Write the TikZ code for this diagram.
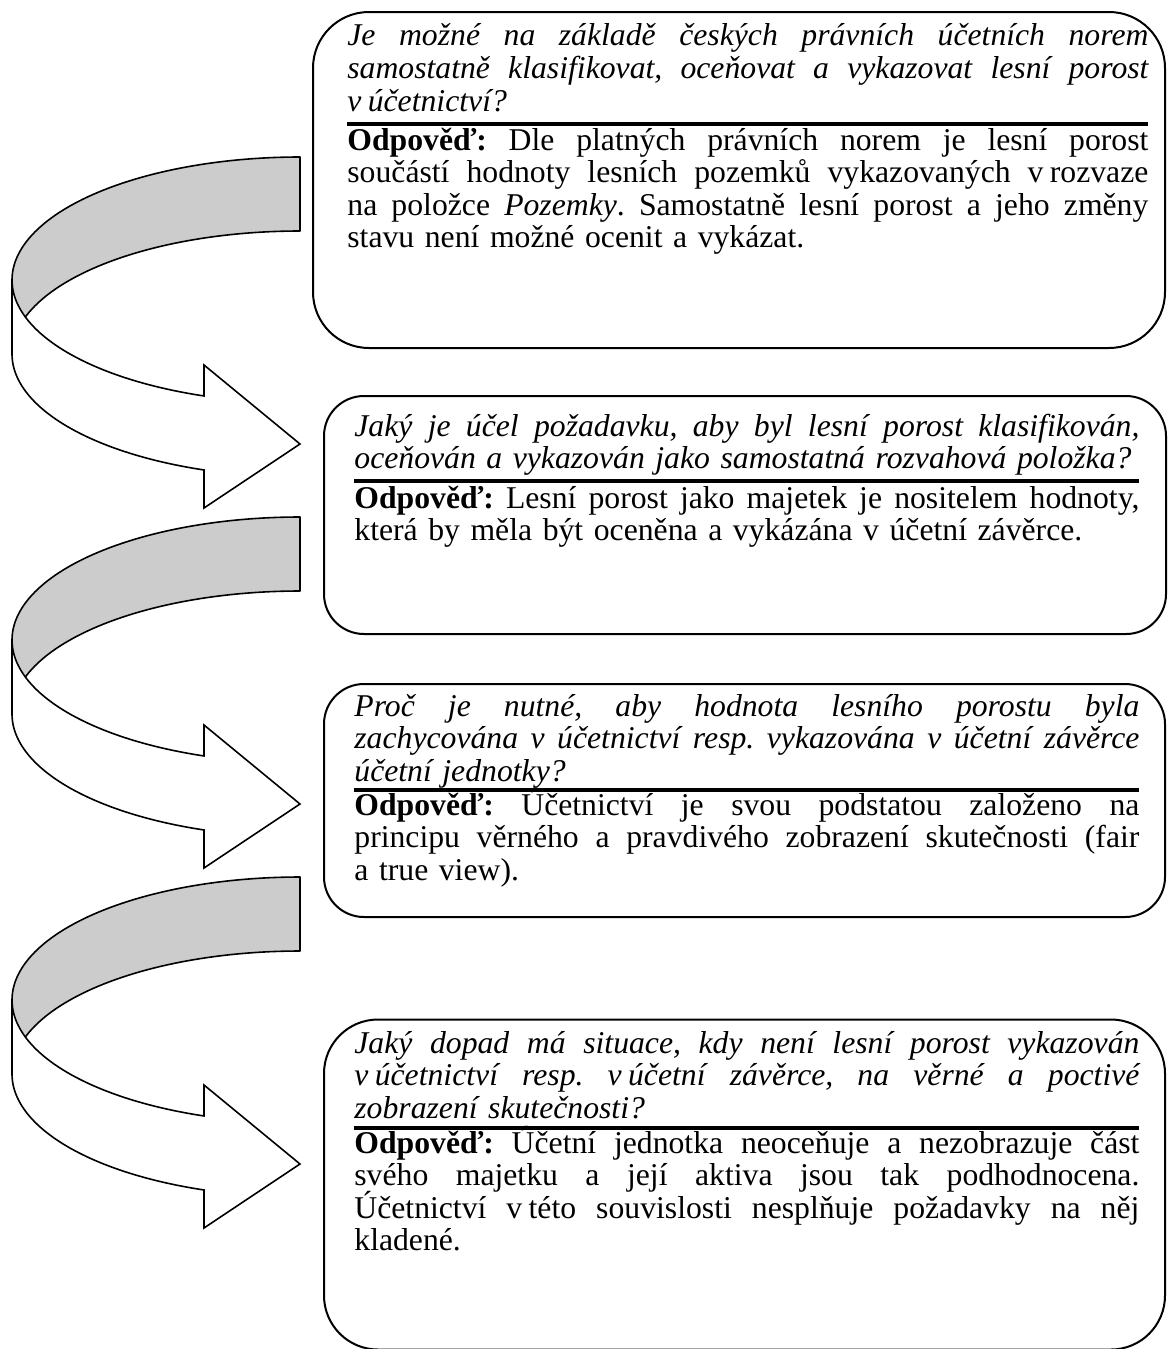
\documentclass[tikz,border=0pt]{standalone}
\usepackage{fontspec}
\setmainfont{Liberation Serif}
\newcommand\qafont{\fontsize{15.85}{16.25}\selectfont\lineskiplimit=-20pt\frenchspacing\relax}
% a justified line: every interword space stretches by the same amount
\newcommand\justline[1]{\makebox[\hsize][s]{\spaceskip=0.25em plus 1fil minus 0.04em\relax\xspaceskip=\spaceskip #1}}
\newcommand\tsp{\hspace{0.2em}}
\tikzset{
  qabox/.style={draw=black, line width=1pt, fill=white, inner sep=0pt},
  ribbonback/.style={draw=black, line width=0.8pt, fill=gray!40, line join=round},
  ribbonfront/.style={draw=black, line width=0.8pt, fill=white, line join=miter},
  sepline/.style={line width=2pt},
  qtext/.style={anchor=base west, inner sep=0pt, text width=#1, align=left, font=\qafont\itshape},
  atext/.style={anchor=base west, inner sep=0pt, text width=#1, align=left, font=\qafont},
}
\begin{document}
\begin{tikzpicture}[x=0.5pt, y=-0.5pt]
\useasboundingbox (0,0) rectangle (1167,1349);

% curved ribbon arrows, one per step
\foreach \dy in {0,360,720}{
  \pgfmathsetmacro\ca{280+\dy}
  \pgfmathsetmacro\cb{354+\dy}
  % back (shaded) half of the ribbon
  \draw[ribbonback] (300,\ca-123)
    -- plot[variable=\t, domain=90:180, samples=60] ({300+288*cos(\t)}, {\ca-123*sin(\t)})
    -- plot[variable=\t, domain=180:90, samples=60] ({300+288*cos(\t)}, {\cb-123*sin(\t)})
    -- cycle;
  % front half with the arrow head
  \draw[ribbonfront] (12,\ca)
    -- plot[variable=\t, domain=180:109.47, samples=60] ({300+288*cos(\t)}, {\ca+123*sin(\t)})
    -- (204,\dy+365) -- (300,\dy+444) -- (204,\dy+508)
    -- plot[variable=\t, domain=109.47:180, samples=60] ({300+288*cos(\t)}, {\cb+123*sin(\t)})
    -- cycle;
}

% question / answer boxes
\node[qabox, minimum width=426pt, minimum height=168pt, rounded corners=28pt] (box1) at (739,180) {};
\node[qabox, minimum width=421pt, minimum height=119pt, rounded corners=20pt] (box2) at (745,515) {};
\node[qabox, minimum width=420.5pt, minimum height=116.5pt, rounded corners=20pt] (box3) at (744.5,800.5) {};
\node[qabox, minimum width=420.5pt, minimum height=165pt, rounded corners=27pt] (box4) at (744.5,1184.5) {};

% box 1
\node[qtext=400.5pt] (q1) at (347,46) {%
\justline{Je možné na základě českých právních účetních norem}\\
\justline{samostatně klasifikovat, oceňovat a vykazovat lesní porost}\\
v\tsp účetnictví?};
\draw[sepline] (347,124) -- (1148,124);
\node[atext=400.5pt] (a1) at (347,150) {%
\justline{\textbf{Odpověď:} Dle platných právních norem je lesní porost}\\
\justline{součástí hodnoty lesních pozemků vykazovaných v\tsp rozvaze}\\
\justline{na položce \textit{Pozemky}. Samostatně lesní porost a jeho změny}\\
stavu není možné ocenit a vykázat.};

% box 2
\node[qtext=392.5pt] (q2) at (354,436) {%
\justline{Jaký je účel požadavku, aby byl lesní porost klasifikován,}\\
oceňován a vykazován jako samostatná rozvahová položka?};
\draw[sepline] (354,481) -- (1139,481);
\node[atext=392.5pt] (a2) at (354,508) {%
\justline{\textbf{Odpověď:} Lesní porost jako majetek je nositelem hodnoty,}\\
která by měla být oceněna a vykázána v účetní závěrce.};

% box 3
\node[qtext=392.5pt] (q3) at (354,716) {%
\justline{Proč je nutné, aby hodnota lesního porostu byla}\\
\justline{zachycována v účetnictví resp. vykazována v účetní závěrce}\\
účetní jednotky?};
\draw[sepline] (354,790) -- (1139,790);
\node[atext=392.5pt] (a3) at (354,815) {%
\justline{\textbf{Odpověď:} Účetnictví je svou podstatou založeno na}\\
\justline{principu věrného a pravdivého zobrazení skutečnosti (fair}\\
a true view).};

% box 4
\node[qtext=392.5pt] (q4) at (354,1053) {%
\justline{Jaký dopad má situace, kdy není lesní porost vykazován}\\
\justline{v\tsp účetnictví resp. v\tsp účetní závěrce, na věrné a poctivé}\\
zobrazení skutečnosti?};
\draw[sepline] (354,1128) -- (1139,1128);
\node[atext=392.5pt] (a4) at (354,1153) {%
\justline{\textbf{Odpověď:} Účetní jednotka neoceňuje a nezobrazuje část}\\
\justline{svého majetku a její aktiva jsou tak podhodnocena.}\\
\justline{Účetnictví v\tsp této souvislosti nesplňuje požadavky na něj}\\
kladené.};
\end{tikzpicture}
\end{document}
